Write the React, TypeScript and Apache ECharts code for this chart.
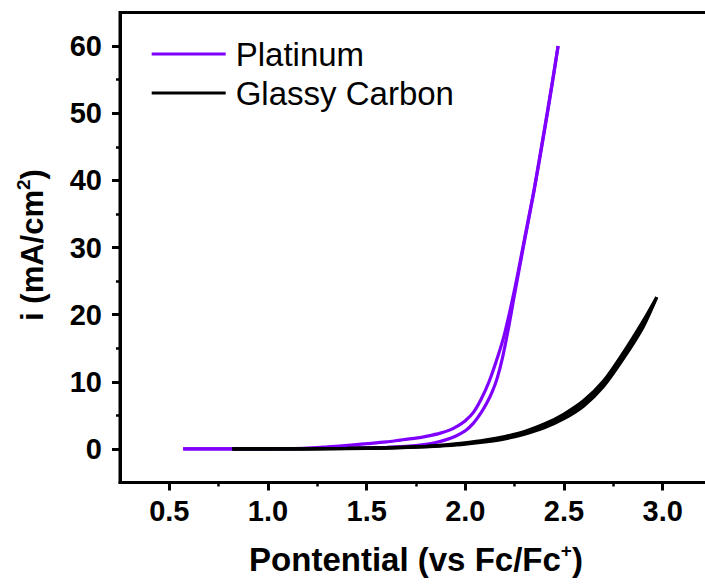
import React, { useEffect, useRef } from "react";
import * as echarts from "echarts";

// Linear sweep voltammograms: current density vs potential (V vs Fc/Fc+)

const PURPLE = "#7F00FF";
const BLACK = "#000000";
const FONT = "'Liberation Sans', Arial, sans-serif";

const xTickValues = [0.5, 1.0, 1.5, 2.0, 2.5, 3.0];
const xMinorValues = [0.75, 1.25, 1.75, 2.25, 2.75];
const yTickValues = [0, 10, 20, 30, 40, 50, 60];
const yMinorValues = [5, 15, 25, 35, 45, 55];

// Platinum electrode: anodic sweep
const ptForward: [number, number][] = [
  [0.57, 0], [0.8, 0], [1.0, 0.02], [1.2, 0.05], [1.4, 0.12], [1.6, 0.25],
  [1.7, 0.4], [1.8, 0.7], [1.85, 0.95], [1.9, 1.35], [1.95, 1.9], [2.0, 2.7],
  [2.04, 3.8], [2.08, 5.4], [2.11, 6.9], [2.136, 8.5], [2.16, 10.4],
  [2.187, 13.4], [2.22, 18.2], [2.25, 23.1], [2.3, 31.0], [2.35, 38.7],
  [2.4, 47.2], [2.44, 54.3], [2.47, 60.0],
];

// Platinum electrode: return sweep
const ptReverse: [number, number][] = [
  [2.47, 60.0], [2.44, 54.5], [2.395, 46.6], [2.35, 38.9], [2.3, 31.3],
  [2.25, 23.8], [2.2, 17.3], [2.167, 14.0], [2.12, 10.0], [2.08, 7.4],
  [2.04, 5.4], [2.0, 4.2], [1.96, 3.4], [1.92, 2.8], [1.874, 2.35],
  [1.807, 1.9], [1.75, 1.6], [1.672, 1.32], [1.6, 1.05], [1.5, 0.78],
  [1.42, 0.58], [1.3, 0.3], [1.2, 0.13], [1.1, 0.05], [1.0, 0.02],
  [0.8, 0], [0.57, 0],
];

// Glassy carbon electrode: repeated cycles
const gcForward1: [number, number][] = [
  [0.82, 0], [1.0, 0.01], [1.2, 0.03], [1.4, 0.08], [1.6, 0.18], [1.8, 0.4],
  [1.9, 0.6], [2.0, 0.9], [2.1, 1.3], [2.2, 1.85], [2.3, 2.6], [2.4, 3.7],
  [2.5, 5.2], [2.6, 7.2], [2.7, 10.1], [2.8, 14.3], [2.9, 19.0], [2.97, 22.6],
];

const gcReverse1: [number, number][] = [
  [2.97, 22.6], [2.9, 18.1], [2.8, 13.4], [2.7, 9.3], [2.6, 6.4], [2.5, 4.5],
  [2.4, 3.15], [2.3, 2.2], [2.2, 1.5], [2.1, 1.05], [2.0, 0.72], [1.9, 0.48],
  [1.8, 0.3], [1.6, 0.13], [1.4, 0.05], [1.2, 0.02], [1.0, 0], [0.82, 0],
];

const gcForward2: [number, number][] = [
  [0.82, 0], [1.0, 0.01], [1.2, 0.02], [1.4, 0.07], [1.6, 0.16], [1.8, 0.36],
  [1.9, 0.55], [2.0, 0.82], [2.1, 1.2], [2.2, 1.72], [2.3, 2.45], [2.4, 3.5],
  [2.5, 4.95], [2.6, 6.9], [2.7, 9.8], [2.8, 13.9], [2.9, 18.7], [2.96, 22.0],
];

const X_MIN = 0.25;
const X_MAX = 3.25;
const Y_MIN = -5;
const Y_MAX = 65;

function lineSeries(name: string, color: string, data: [number, number][]) {
  return {
    type: "line",
    name,
    color,
    data,
    showSymbol: false,
    symbol: "none",
    smooth: 0.3,
    lineStyle: { width: 3.2, color },
    itemStyle: { color },
    emphasis: { disabled: true },
    z: 3,
  };
}

export default function App() {
  const ref = useRef<HTMLDivElement>(null);

  useEffect(() => {
    if (!ref.current) return;
    const chart = echarts.init(ref.current, null, { renderer: "svg" });

    const tickLabel = {
      fontSize: 29,
      fontWeight: "bold",
      color: BLACK,
      fontFamily: FONT,
    };

    const option: any = {
      animation: false,
      backgroundColor: "#ffffff",
      textStyle: { fontFamily: FONT },
      grid: {
        left: 120,
        top: 12.5,
        width: 592,
        height: 470,
        outerBoundsMode: "none",
        containLabel: false,
        show: true,
        borderColor: BLACK,
        borderWidth: 3,
        backgroundColor: "transparent",
      },
      legend: {
        data: ["Platinum", "Glassy Carbon"],
        orient: "vertical",
        left: 151.7,
        top: 34.5,
        padding: 0,
        itemGap: 0,
        itemWidth: 74,
        itemHeight: 3,
        icon: "rect",
        selectedMode: false,
        textStyle: {
          fontSize: 33,
          color: BLACK,
          fontFamily: FONT,
          lineHeight: 39,
          padding: [0, 0, 0, 5],
        },
      },
      xAxis: [
        {
          type: "value",
          min: X_MIN,
          max: X_MAX,
          position: "bottom",
          axisLine: { show: true, onZero: false, lineStyle: { color: BLACK, width: 3 } },
          axisTick: {
            show: true,
            customValues: xTickValues,
            length: 8,
            lineStyle: { color: BLACK, width: 3 },
          },
          axisLabel: {
            ...tickLabel,
            customValues: xTickValues,
            margin: 14,
            formatter: (v: number) => v.toFixed(1),
          },
          splitLine: { show: false },
        },
        {
          type: "value",
          min: X_MIN,
          max: X_MAX,
          position: "bottom",
          axisLine: { show: false, onZero: false },
          axisTick: {
            show: true,
            customValues: xMinorValues,
            length: 4,
            lineStyle: { color: BLACK, width: 2.5 },
          },
          axisLabel: { show: false },
          splitLine: { show: false },
        },
      ],
      yAxis: [
        {
          type: "value",
          min: Y_MIN,
          max: Y_MAX,
          position: "left",
          axisLine: { show: true, onZero: false, lineStyle: { color: BLACK, width: 3 } },
          axisTick: {
            show: true,
            customValues: yTickValues,
            length: 8,
            lineStyle: { color: BLACK, width: 3 },
          },
          axisLabel: {
            ...tickLabel,
            customValues: yTickValues,
            margin: 18,
          },
          splitLine: { show: false },
        },
        {
          type: "value",
          min: Y_MIN,
          max: Y_MAX,
          position: "left",
          axisLine: { show: false, onZero: false },
          axisTick: {
            show: true,
            customValues: yMinorValues,
            length: 4,
            lineStyle: { color: BLACK, width: 2.5 },
          },
          axisLabel: { show: false },
          splitLine: { show: false },
        },
      ],
      series: [
        lineSeries("Platinum", PURPLE, ptForward),
        lineSeries("Platinum", PURPLE, ptReverse),
        lineSeries("Glassy Carbon", BLACK, gcForward1),
        lineSeries("Glassy Carbon", BLACK, gcReverse1),
        lineSeries("Glassy Carbon", BLACK, gcForward2),
      ],
      graphic: [
        {
          type: "text",
          x: 416,
          y: 559,
          style: {
            text: "{a|Pontential (vs Fc/Fc}{s|+}{a|)}",
            align: "center",
            verticalAlign: "middle",
            rich: {
              a: { fontSize: 33, fontWeight: "bold", fontFamily: FONT, fill: BLACK, lineHeight: 36 },
              s: { fontSize: 19, fontWeight: "bold", fontFamily: FONT, fill: BLACK, lineHeight: 19, verticalAlign: "top" },
            },
          },
        },
        {
          type: "text",
          x: 32,
          y: 245,
          rotation: Math.PI / 2,
          style: {
            text: "{a|i (mA/cm}{s|2}{a|)}",
            align: "center",
            verticalAlign: "middle",
            rich: {
              a: { fontSize: 31, fontWeight: "bold", fontFamily: FONT, fill: BLACK, lineHeight: 36 },
              s: { fontSize: 19, fontWeight: "bold", fontFamily: FONT, fill: BLACK, lineHeight: 19, verticalAlign: "top" },
            },
          },
        },
      ],
    };

    chart.setOption(option);
    return () => chart.dispose();
  }, []);

  return (
    <div
      ref={ref}
      style={{ position: "fixed", left: 0, top: 0, width: 705, height: 586, background: "#fff" }}
    />
  );
}
